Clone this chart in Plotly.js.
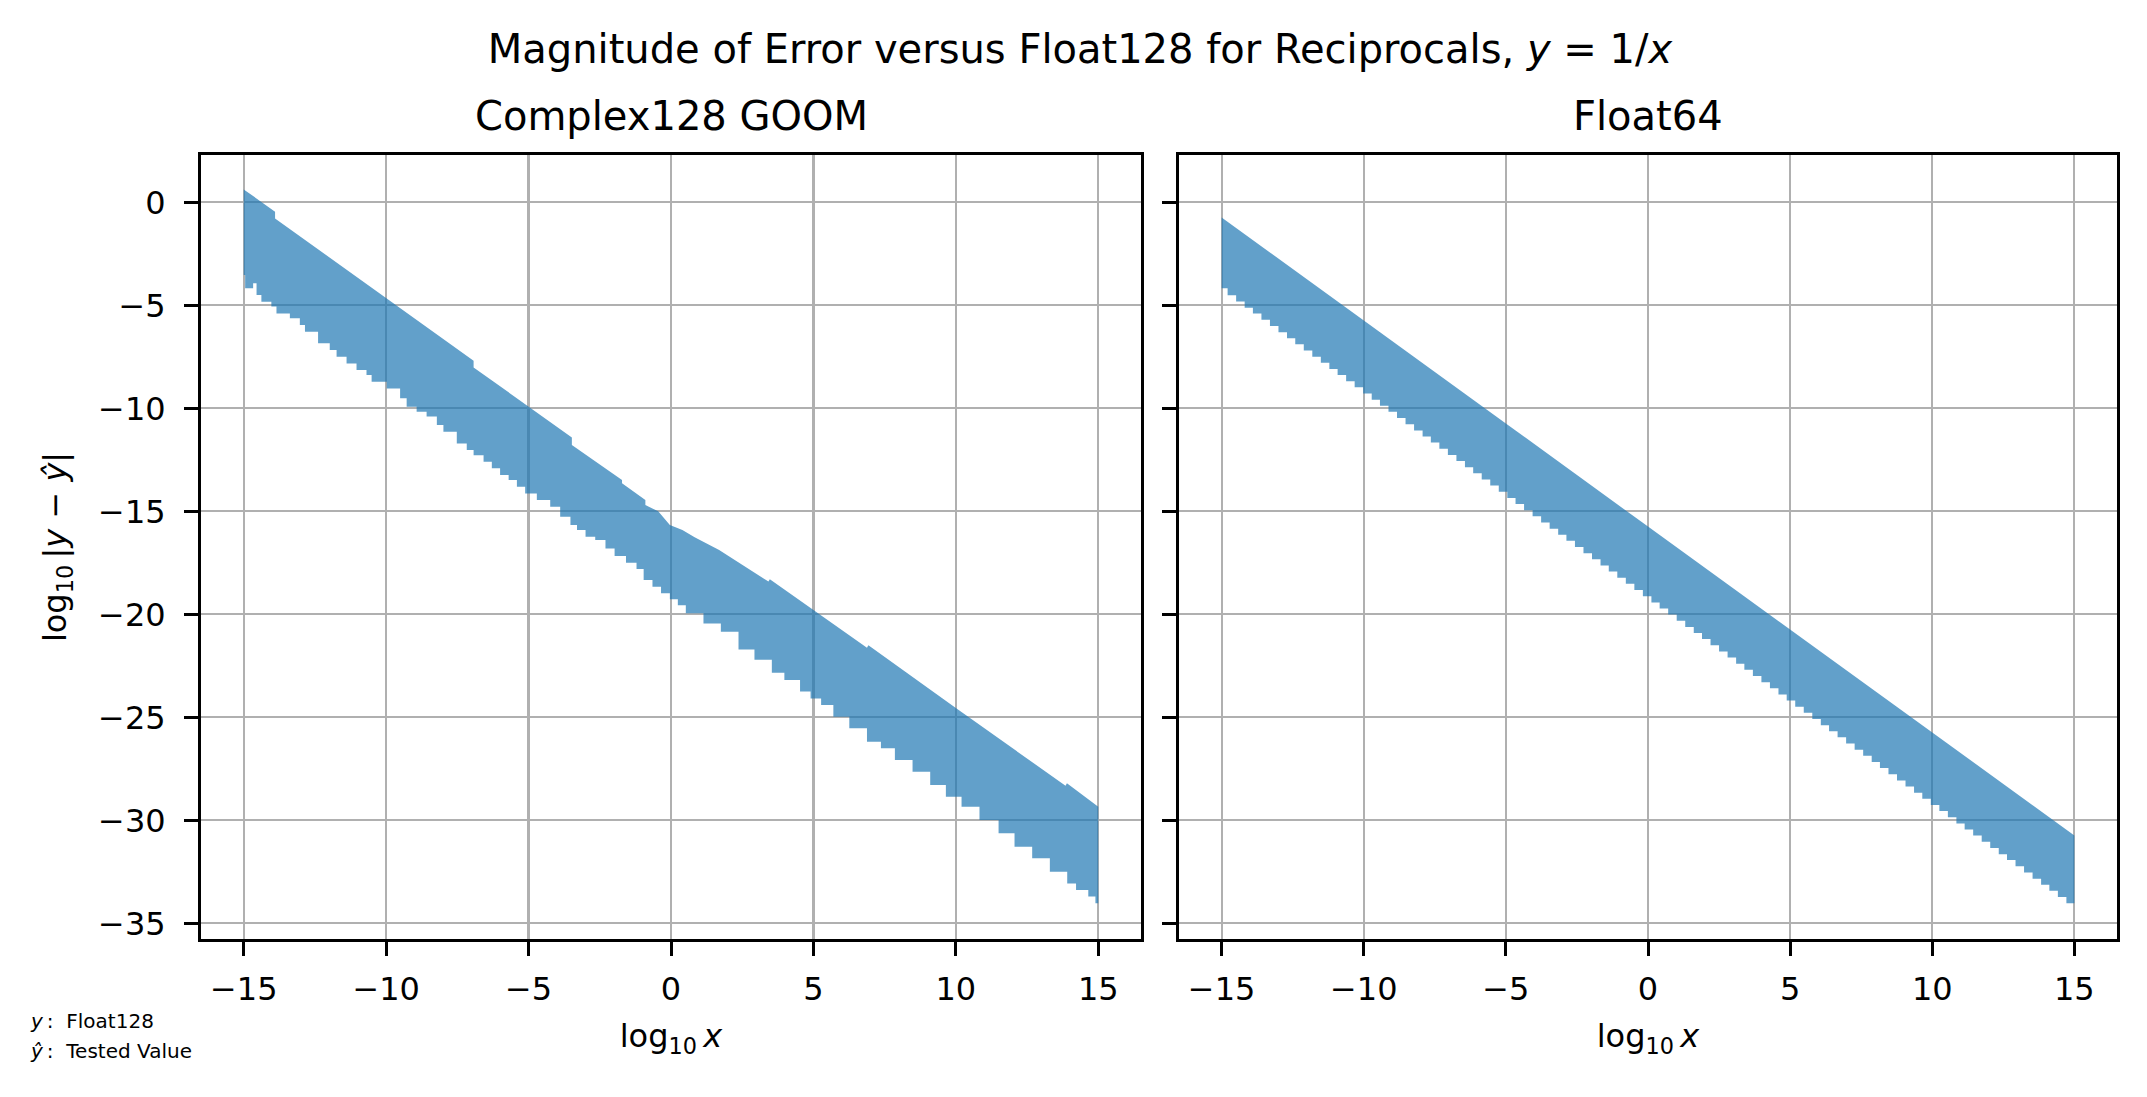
<!DOCTYPE html>
<html><head><meta charset="utf-8">
<script src="https://cdn.plot.ly/plotly-3.0.1.min.js"></script>
<style>html,body{margin:0;padding:0;background:#fff}</style>
</head><body>
<div id="chart" style="width:2147px;height:1097px"></div>
<script>
// ---- tick labels ----
const xTickVals = [-15, -10, -5, 0, 5, 10, 15];
const xTickText = ['\u221215', '\u221210', '\u22125', '0', '5', '10', '15'];
const yTickVals = [0, -5, -10, -15, -20, -25, -30, -35];
const yTickText = ['0', '\u22125', '\u221210', '\u221215', '\u221220', '\u221225', '\u221230', '\u221235'];

// ---- panel titles ----
const panelTitles = ['Complex128 GOOM', 'Float64'];

// ---- Complex128 GOOM: upper edge of error band ----
const goomUpperX = [-15, -13.9, -13.9, -6.93, -6.93, -3.48, -3.48, -1.72, -1.72, -0.9, -0.9, -0.45, -0.04, 0.4, 0.83, 1.69, 3.42, 3.47, 6.88, 6.93, 10.0, 13.85, 13.9, 15];
const goomUpperY = [0.63, -0.45, -0.78, -7.69, -8.01, -11.41, -11.78, -13.48, -13.64, -14.45, -14.69, -15.0, -15.66, -15.9, -16.26, -16.88, -18.41, -18.3, -21.62, -21.5, -24.55, -28.32, -28.2, -29.34];

// ---- Complex128 GOOM: lower edge of error band ----
const goomLowerX = [-15, -14.95, -14.67, -14.55, -14.38, -14.03, -13.85, -13.38, -13.03, -12.85, -12.39, -11.98, -11.74, -11.39, -11.04, -10.69, -10.51, -9.98, -9.51, -9.28, -8.93, -8.58, -8.22, -7.99, -7.52, -7.17, -6.93, -6.58, -6.29, -6.0, -5.7, -5.41, -5.12, -4.71, -4.24, -3.89, -3.53, -3.3, -3.0, -2.66, -2.3, -1.98, -1.58, -1.21, -0.96, -0.65, -0.35, -0.04, 0.24, 0.52, 1.14, 1.75, 2.37, 2.93, 3.54, 3.98, 4.53, 4.9, 5.27, 5.7, 6.26, 6.88, 7.37, 7.86, 8.48, 9.1, 9.65, 10.2, 10.83, 11.5, 12.06, 12.68, 13.3, 13.91, 14.22, 14.65, 14.9, 15];
const goomLowerY = [-3.53, -4.17, -3.93, -4.5, -4.82, -5.06, -5.39, -5.63, -5.95, -6.28, -6.84, -7.17, -7.49, -7.82, -8.14, -8.38, -8.71, -9.03, -9.51, -9.92, -10.16, -10.4, -10.81, -11.13, -11.7, -12.02, -12.27, -12.59, -12.91, -13.24, -13.48, -13.8, -14.13, -14.45, -14.77, -15.26, -15.66, -15.9, -16.23, -16.39, -16.8, -17.17, -17.5, -17.8, -18.33, -18.66, -18.98, -19.27, -19.56, -19.95, -20.44, -20.84, -21.7, -22.2, -22.83, -23.19, -23.75, -24.08, -24.4, -24.97, -25.53, -26.18, -26.5, -27.07, -27.64, -28.28, -28.85, -29.34, -29.98, -30.63, -31.28, -31.84, -32.49, -33.06, -33.38, -33.7, -34.03, -34.1];

// ---- Float64: upper edge of error band ----
const f64UpperX = [-15, -10, -5, 0, 5, 10, 15];
const f64UpperY = [-0.73, -5.71, -10.73, -15.74, -20.73, -25.73, -30.73];

// ---- Float64: lower (staircase) edge of error band ----
const f64LowerX = [-15, -14.79, -14.49, -14.19, -13.90, -13.60, -13.30, -13.00, -12.70, -12.41, -12.11, -11.81, -11.51, -11.21, -10.92, -10.62, -10.32, -10.02, -9.72, -9.43, -9.13, -8.83, -8.53, -8.23, -7.93, -7.64, -7.34, -7.04, -6.74, -6.44, -6.15, -5.85, -5.55, -5.25, -4.95, -4.66, -4.36, -4.06, -3.76, -3.46, -3.16, -2.87, -2.57, -2.27, -1.97, -1.67, -1.38, -1.08, -0.78, -0.48, -0.18, 0.12, 0.41, 0.71, 1.01, 1.31, 1.61, 1.90, 2.20, 2.50, 2.80, 3.10, 3.39, 3.69, 3.99, 4.29, 4.59, 4.88, 5.18, 5.48, 5.78, 6.08, 6.37, 6.67, 6.97, 7.27, 7.57, 7.87, 8.16, 8.46, 8.76, 9.06, 9.36, 9.65, 9.95, 10.25, 10.55, 10.85, 11.14, 11.44, 11.74, 12.04, 12.34, 12.63, 12.93, 13.23, 13.53, 13.83, 14.12, 14.42, 14.72, 15];
const f64LowerY = [-4.17, -4.51, -4.81, -5.11, -5.40, -5.70, -6.00, -6.30, -6.60, -6.89, -7.19, -7.49, -7.79, -8.09, -8.38, -8.68, -8.98, -9.28, -9.58, -9.87, -10.17, -10.47, -10.77, -11.07, -11.37, -11.66, -11.96, -12.26, -12.56, -12.86, -13.15, -13.45, -13.75, -14.05, -14.35, -14.64, -14.94, -15.24, -15.54, -15.84, -16.14, -16.43, -16.73, -17.03, -17.33, -17.63, -17.92, -18.22, -18.52, -18.82, -19.12, -19.42, -19.71, -20.01, -20.31, -20.61, -20.91, -21.20, -21.50, -21.80, -22.10, -22.40, -22.69, -22.99, -23.29, -23.59, -23.89, -24.18, -24.48, -24.78, -25.08, -25.38, -25.67, -25.97, -26.27, -26.57, -26.87, -27.17, -27.46, -27.76, -28.06, -28.36, -28.66, -28.95, -29.25, -29.55, -29.85, -30.15, -30.44, -30.74, -31.04, -31.34, -31.64, -31.93, -32.23, -32.53, -32.83, -33.13, -33.42, -33.72, -34.02, -34.02];

// ---- styling ----
const FONT = 'DejaVu Sans, sans-serif';
const FILL = 'rgba(31,119,180,0.7)';
const W = 2147, H = 1097;
const ML = 201, MR = 30, MT = 155, MB = 158;
const PW = W - ML - MR, PH = H - MT - MB;
const px = v => (v - ML) / PW;
const py = v => (H - MB - v) / PH;

function edgeTrace(x, y, xa, ya, fill, shape) {
  const t = {x: x, y: y, xaxis: xa, yaxis: ya, mode: 'lines', type: 'scatter',
    line: {width: 0, color: FILL, shape: shape}, showlegend: false, hoverinfo: 'skip'};
  if (fill) { t.fill = 'tonexty'; t.fillcolor = FILL; }
  return t;
}

const data = [
  edgeTrace(goomUpperX, goomUpperY, 'x', 'y', false, 'linear'),
  edgeTrace(goomLowerX, goomLowerY, 'x', 'y', true, 'hv'),
  edgeTrace(f64UpperX, f64UpperY, 'x2', 'y2', false, 'linear'),
  edgeTrace(f64LowerX, f64LowerY, 'x2', 'y2', true, 'hv')
];

const axisCommon = {
  showline: true, mirror: true, linecolor: '#000', linewidth: 3,
  showgrid: true, gridcolor: '#b0b0b0', gridwidth: 2.2,
  zeroline: false, ticks: 'outside', ticklen: 14, tickwidth: 3, tickcolor: '#000',
  tickfont: {family: FONT, size: 32, color: '#000'}, tickmode: 'array',
  automargin: false
};

const xTitle = 'log<sub>10</sub>\u2009<i>x</i>';

const layout = {
  width: W, height: H,
  margin: {l: ML, r: MR, t: MT, b: MB, pad: 0},
  paper_bgcolor: '#fff', plot_bgcolor: '#fff',
  font: {family: FONT, color: '#000'},
  showlegend: false,
  title: {text: 'Magnitude of Error versus Float128 for Reciprocals, <i>y</i> = 1/<i>x</i>',
    font: {family: FONT, size: 40, color: '#000'},
    x: 1080 / W, xref: 'container', xanchor: 'center',
    y: 1 - 49 / H, yref: 'container', yanchor: 'middle'},
  xaxis: Object.assign({}, axisCommon, {domain: [0, 940 / PW], range: [-16.5, 16.5], anchor: 'y',
    tickvals: xTickVals, ticktext: xTickText, ticklabelstandoff: 6,
    title: {text: xTitle, font: {family: FONT, size: 32, color: '#000'}, standoff: 18}}),
  xaxis2: Object.assign({}, axisCommon, {domain: [978 / PW, 1], range: [-16.5, 16.5], anchor: 'y2',
    tickvals: xTickVals, ticktext: xTickText, ticklabelstandoff: 6,
    title: {text: xTitle, font: {family: FONT, size: 32, color: '#000'}, standoff: 18}}),
  yaxis: Object.assign({}, axisCommon, {domain: [0, 1], range: [-35.76, 2.3], anchor: 'x',
    tickvals: yTickVals, ticktext: yTickText, ticklabelstandoff: 12,
    title: {text: 'log<sub>10</sub>\u2009|<i>y</i> \u2212 <i>y\u0302</i>|', font: {family: FONT, size: 32, color: '#000'}, standoff: 22}}),
  yaxis2: Object.assign({}, axisCommon, {domain: [0, 1], range: [-35.76, 2.3], anchor: 'x2', matches: 'y',
    tickvals: yTickVals, ticktext: yTickText, showticklabels: false}),
  annotations: [
    {text: panelTitles[0], x: px(671), y: py(116), xref: 'paper', yref: 'paper', xanchor: 'center', yanchor: 'middle',
      showarrow: false, font: {family: FONT, size: 40, color: '#000'}},
    {text: panelTitles[1], x: px(1648), y: py(116), xref: 'paper', yref: 'paper', xanchor: 'center', yanchor: 'middle',
      showarrow: false, font: {family: FONT, size: 40, color: '#000'}},
    {text: '<i>y</i>\u2009:\u00a0 Float128', x: px(28), y: py(1021), xref: 'paper', yref: 'paper', xanchor: 'left', yanchor: 'middle',
      showarrow: false, font: {family: FONT, size: 20, color: '#000'}},
    {text: '<i>y\u0302</i>\u2009:\u00a0 Tested Value', x: px(28), y: py(1051), xref: 'paper', yref: 'paper', xanchor: 'left', yanchor: 'middle',
      showarrow: false, font: {family: FONT, size: 20, color: '#000'}}
  ]
};

Plotly.newPlot('chart', data, layout, {staticPlot: true, displayModeBar: false});
</script>
</body></html>
